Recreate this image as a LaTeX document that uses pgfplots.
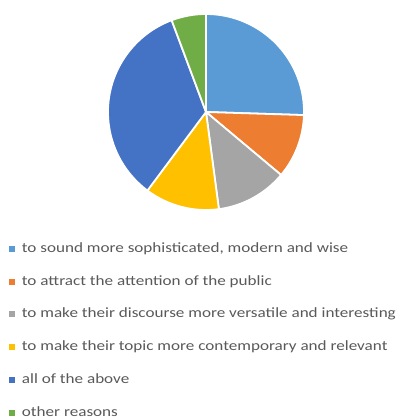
\documentclass[border=0pt]{standalone}
\usepackage{pgfplots}
\usepackage{pgfplotstable}
\pgfplotsset{compat=1.18}
\usepackage{fontspec}
\setmainfont{Carlito}[FakeStretch=1.21]
\definecolor{c0}{HTML}{5B9BD5}
\definecolor{c1}{HTML}{ED7D31}
\definecolor{c2}{HTML}{A5A5A5}
\definecolor{c3}{HTML}{FFC000}
\definecolor{c4}{HTML}{4472C4}
\definecolor{c5}{HTML}{70AD47}
\definecolor{txt}{HTML}{595959}
\pgfplotstableread{
id value
0 25.5
1 10.6
2 11.8
3 12.3
4 34.1
5 5.7
}\piedata
\def\cum{0}
\pgfplotsforeachungrouped \i in {0,...,5}{%
  \pgfplotstablegetelem{\i}{value}\of\piedata
  \pgfmathsetmacro\newcum{\cum+\pgfplotsretval}%
  \pgfmathsetmacro\sa{90-3.6*\cum}%
  \pgfmathsetmacro\ea{90-3.6*\newcum}%
  \expandafter\xdef\csname sa\i\endcsname{\sa}%
  \expandafter\xdef\csname ea\i\endcsname{\ea}%
  \global\let\cum\newcum
}
\begin{document}
\begin{tikzpicture}
\path[use as bounding box] (0,0) rectangle (407bp,-419bp);
\begin{axis}[
  at={(206bp,-112bp)}, anchor=origin,
  x=98bp, y=98bp,
  xmin=-1, xmax=1, ymin=-1, ymax=1,
  hide axis,
  clip=false,
  legend image code/.code={\fill[#1, draw=none] (0bp,-3bp) rectangle (6bp,3bp); \path (12.5bp,0bp);},
  legend cell align=left,
  legend style={at={(axis cs:-2.01,-1.33)}, anchor=north west, draw=none, fill=none,
    font=\fontsize{14.2}{16}\selectfont, text=txt, inner sep=0pt,
    nodes={inner sep=0pt, text height=10bp, text depth=3bp},
    row sep=19.7bp},
]
\pgfplotsinvokeforeach{0,...,5}{
  \fill[fill=c#1, draw=white, line width=1.8pt, line join=round]
    (axis cs:0,0) -- ++(\csname sa#1\endcsname:98bp)
    arc[start angle=\csname sa#1\endcsname, end angle=\csname ea#1\endcsname, radius=98bp] -- cycle;
}
\addlegendimage{fill=c0}\addlegendentry{to sound more sophisticated, modern and wise}
\addlegendimage{fill=c1}\addlegendentry{to attract the attention of the public}
\addlegendimage{fill=c2}\addlegendentry{to make their discourse more versatile and interesting}
\addlegendimage{fill=c3}\addlegendentry{to make their topic more contemporary and relevant}
\addlegendimage{fill=c4}\addlegendentry{all of the above}
\addlegendimage{fill=c5}\addlegendentry{other reasons}
\end{axis}
\end{tikzpicture}
\end{document}
